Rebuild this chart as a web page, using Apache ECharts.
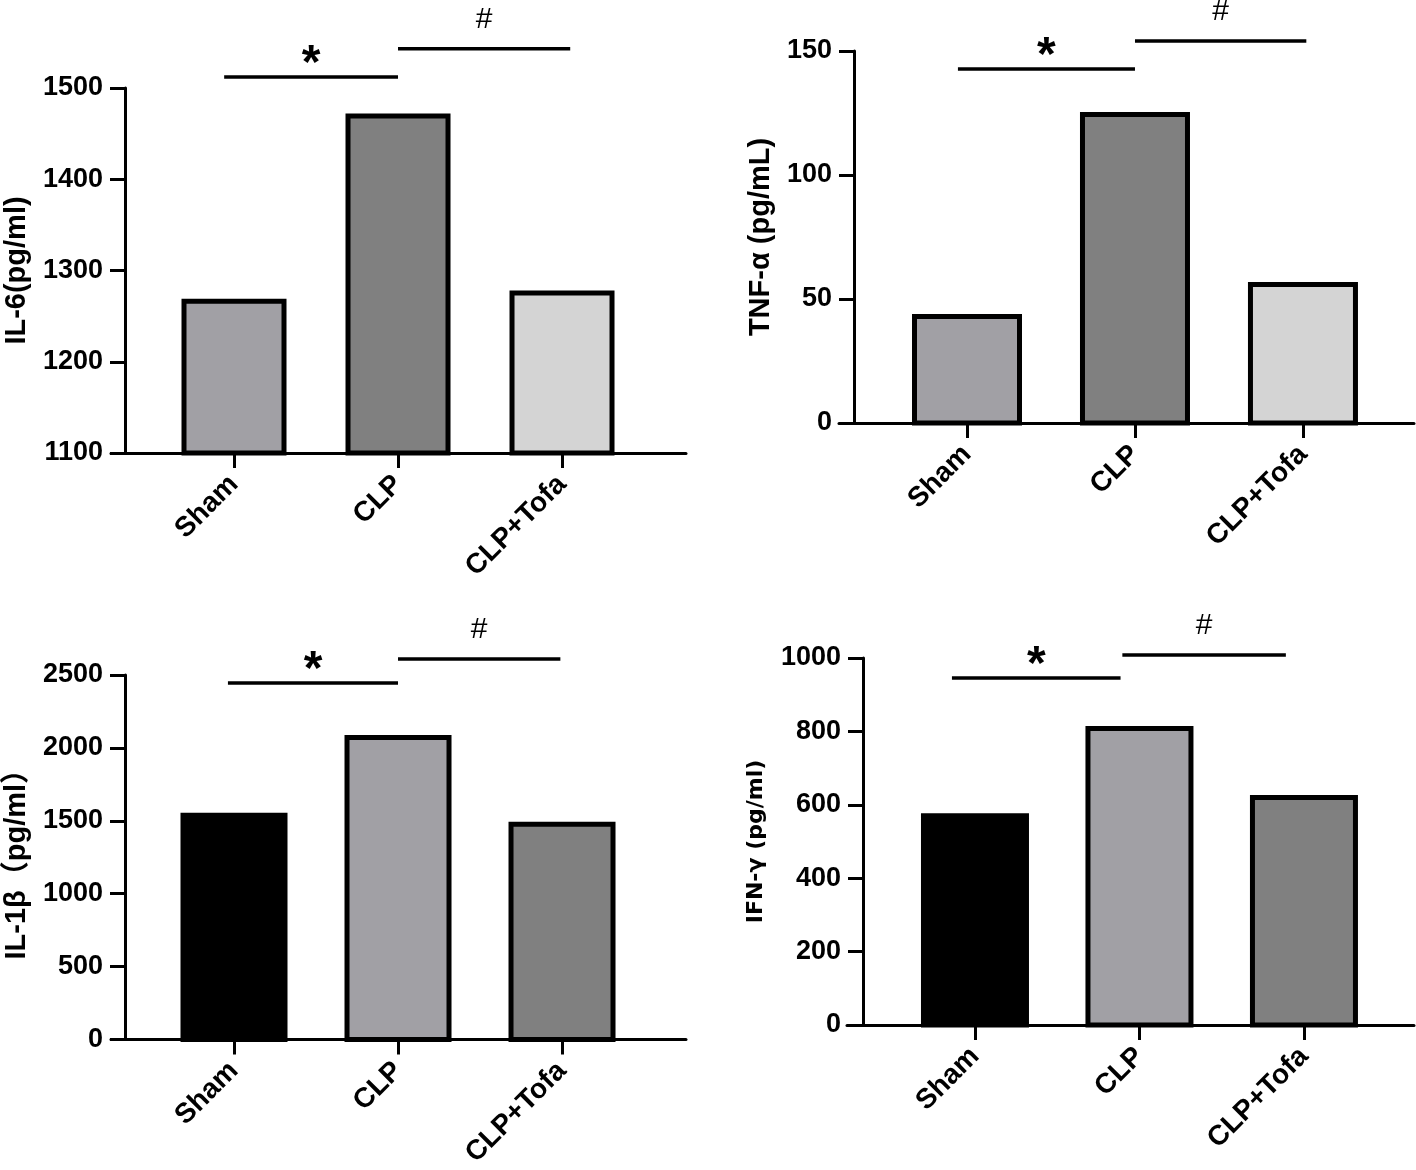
<!DOCTYPE html>
<html>
<head>
<meta charset="utf-8">
<script src="https://cdn.jsdelivr.net/npm/echarts@6/dist/echarts.min.js"></script>
<style>
html,body{margin:0;padding:0;background:#fff;}
#c{width:1416px;height:1170px;}
</style>
</head>
<body>
<div id="c"></div>
<script>
// ---- data ----
const categories = ['Sham', 'CLP', 'CLP+Tofa'];

const il6Values = [1269, 1472, 1278];
const tnfValues = [44.0, 125.4, 56.9];
const il1bValues = [1555, 2088, 1494];
const ifngValues = [577, 815, 627];

const il6Ticks = {min: 1100, max: 1500, interval: 100};
const tnfTicks = {min: 0, max: 150, interval: 50};
const il1bTicks = {min: 0, max: 2500, interval: 500};
const ifngTicks = {min: 0, max: 1000, interval: 200};

// significance brackets: [from category pos, to category pos, value level, mark]
const il6Sig = [[-0.06, 1.0, 1512, '*'], [1.0, 2.05, 1543, '#']];
const tnfSig = [[-0.054, 1.0, 142.7, '*'], [1.0, 2.02, 154.0, '#']];
const il1bSig = [[-0.037, 1.0, 2445, '*'], [1.0, 1.99, 2610, '#']];
const ifngSig = [[-0.14, 0.885, 945.5, '*'], [0.896, 1.89, 1008, '#']];

// fills
const fillsTop = ['#a1a0a5', '#808080', '#d4d4d4'];
const fillsBottom = ['#000000', '#a1a0a5', '#808080'];

// ---- chart ----
const FONT = "'Liberation Sans', Arial, 'Noto Sans CJK SC', sans-serif";
const FONT_WIDE = "'DejaVu Sans', 'Liberation Sans', sans-serif";
const chart = echarts.init(document.getElementById('c'), null, {renderer: 'canvas'});

const panels = [
  {grid: {left: 111, top: 88, width: 575, height: 365}, yOffset: -14, xMin: -0.75, xMax: 2.756,
   ticks: il6Ticks, values: il6Values, fills: fillsTop, sig: il6Sig, name: 'IL-6(pg/ml)', nameGap: 93, nameSize: 29, nameFont: FONT, barW: 105},
  {grid: {left: 839, top: 51, width: 575, height: 372}, yOffset: -15, xMin: -0.762, xMax: 2.661,
   ticks: tnfTicks, values: tnfValues, fills: fillsTop, sig: tnfSig, name: 'TNF-α (pg/mL)', nameGap: 79, nameSize: 29, nameFont: FONT, barW: 110},
  {grid: {left: 111, top: 675, width: 575, height: 366}, yOffset: -14, xMin: -0.75, xMax: 2.756,
   ticks: il1bTicks, values: il1bValues, fills: fillsBottom, sig: il1bSig, name: 'IL-1β（pg/ml）', nameGap: 93, nameSize: 29, nameFont: FONT, barW: 107},
  {grid: {left: 847, top: 658, width: 567, height: 367}, yOffset: -16, xMin: -0.778, xMax: 2.669,
   ticks: ifngTicks, values: ifngValues, fills: fillsBottom, sig: ifngSig, name: 'IFN-γ (pg/ml)', nameGap: 96, nameSize: 22, nameFont: FONT_WIDE, barW: 108}
];

const grids = [], xAxes = [], yAxes = [], series = [];
panels.forEach(function (p, i) {
  grids.push(Object.assign({containLabel: false}, p.grid));
  xAxes.push({
    type: 'value', gridIndex: i, min: p.xMin, max: p.xMax,
    splitLine: {show: false},
    axisLine: {show: true, onZero: false, lineStyle: {color: '#000', width: 3}},
    axisTick: {show: true, customValues: [0, 1, 2], length: 15, lineStyle: {color: '#000', width: 3}},
    axisLabel: {
      customValues: [0, 1, 2], rotate: 45, margin: 27,
      color: '#000', fontFamily: FONT, fontWeight: 'bold', fontSize: 28,
      formatter: function (v) { return categories[Math.round(v)]; }
    }
  });
  yAxes.push({
    type: 'value', gridIndex: i, min: p.ticks.min, max: p.ticks.max, interval: p.ticks.interval,
    startValue: p.ticks.min - p.ticks.interval * 0.1,
    offset: p.yOffset,
    splitLine: {show: false},
    axisLine: {show: true, onZero: false, lineStyle: {color: '#000', width: 3}},
    axisTick: {show: true, length: 15, lineStyle: {color: '#000', width: 3}},
    axisLabel: {margin: 22, color: '#000', fontFamily: FONT, fontWeight: 'bold', fontSize: 27,
      formatter: function (v) { return String(v); }},
    name: p.name, nameLocation: 'middle', nameRotate: 90, nameGap: p.nameGap,
    nameTextStyle: {color: '#000', fontFamily: p.nameFont, fontWeight: 'bold', fontSize: p.nameSize}
  });
  series.push({
    type: 'bar', xAxisIndex: i, yAxisIndex: i, barWidth: p.barW, clip: true,
    data: p.values.map(function (v, k) {
      return {value: [k, v], itemStyle: {color: p.fills[k], borderColor: '#000', borderWidth: 5}};
    }),
    silent: true
  });
  const sig = p.sig;
  series.push({
    type: 'custom', xAxisIndex: i, yAxisIndex: i, clip: false, silent: true, z: 10,
    data: sig.map(function (s) { return [s[0], s[1], s[2]]; }),
    encode: {x: [0, 1], y: 2},
    renderItem: function (params, api) {
      const a = api.coord([api.value(0), api.value(2)]);
      const b = api.coord([api.value(1), api.value(2)]);
      const mark = sig[params.dataIndex][3];
      const star = mark === '*';
      return {
        type: 'group',
        children: [
          {type: 'line', shape: {x1: a[0], y1: a[1], x2: b[0], y2: b[1]}, style: {stroke: '#000', lineWidth: 3.5}},
          {type: 'text', style: {
            text: mark, x: (a[0] + b[0]) / 2, y: a[1] - (star ? 12 : 29),
            align: 'center', verticalAlign: 'middle', fill: '#000',
            font: (star ? 'bold 48px ' : 'normal 30px ') + FONT
          }}
        ]
      };
    }
  });
});

chart.setOption({
  animation: false,
  backgroundColor: '#ffffff',
  grid: grids,
  xAxis: xAxes,
  yAxis: yAxes,
  series: series
});
</script>
</body>
</html>
